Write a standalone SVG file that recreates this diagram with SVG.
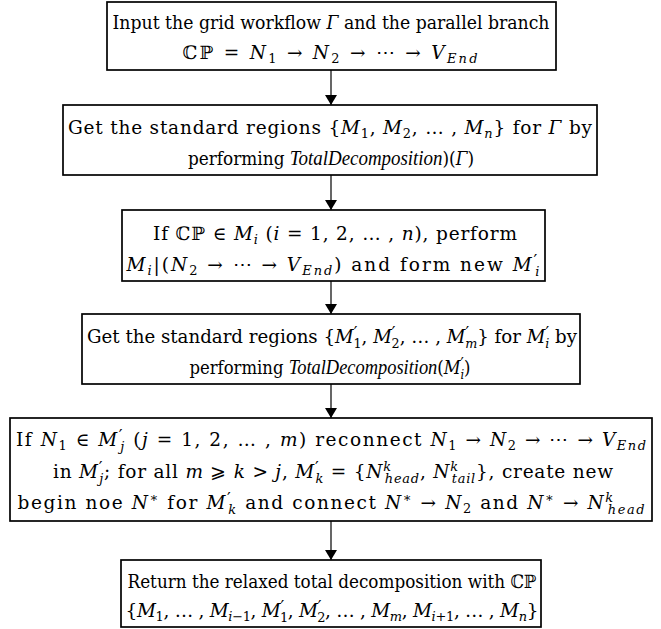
<svg xmlns="http://www.w3.org/2000/svg" width="661" height="629" viewBox="0 0 661 629">
<style>
rect.box { fill: #fff; stroke: #000; stroke-width: 1.7; }
text { font-family: "DejaVu Serif", serif; font-size: 18.5px; fill: #000; text-anchor: middle; }
.i { font-style: italic; }
.s { font-size: 70%; }
.p { font-size: 90%; }
.td { font-family: "Liberation Serif", "Times New Roman", serif; font-style: italic; font-size: 112%; }
line.c { stroke: #000; stroke-width: 1.2; }
</style>
<defs>
<marker id="ah" viewBox="0 0 10 12" refX="10" refY="6" markerWidth="10" markerHeight="12" markerUnits="userSpaceOnUse" orient="auto">
<path d="M0,0 L10,6 L0,12 z" fill="#000"/>
</marker>
</defs>
<g id="connectors">
<line class="c" x1="331" y1="70" x2="331" y2="105" marker-end="url(#ah)"/>
<line class="c" x1="331" y1="175" x2="331" y2="210" marker-end="url(#ah)"/>
<line class="c" x1="331" y1="281" x2="331" y2="314" marker-end="url(#ah)"/>
<line class="c" x1="331" y1="384" x2="331" y2="418" marker-end="url(#ah)"/>
<line class="c" x1="331" y1="521" x2="331" y2="560" marker-end="url(#ah)"/>
</g>
<g id="n1">
<rect class="box" x="107" y="2" width="449" height="68"/>
<text x="331" y="29" textLength="437" lengthAdjust="spacingAndGlyphs">Input the grid workflow <tspan class="i">Γ</tspan> and the parallel branch</text>
<text x="330" y="59" textLength="295" lengthAdjust="spacing">ℂℙ = <tspan class="i">N</tspan><tspan class="s" baseline-shift="-4">1</tspan> → <tspan class="i">N</tspan><tspan class="s" baseline-shift="-4">2</tspan> → ⋯ → <tspan class="i">V</tspan><tspan class="s i" baseline-shift="-4">End</tspan></text>
</g>
<g id="n2">
<rect class="box" x="63" y="105" width="534" height="70"/>
<text x="330" y="134" textLength="524" lengthAdjust="spacing">Get the standard regions {<tspan class="i">M</tspan><tspan class="s" baseline-shift="-4">1</tspan>, <tspan class="i">M</tspan><tspan class="s" baseline-shift="-4">2</tspan>, … , <tspan class="i">M</tspan><tspan class="s i" baseline-shift="-4">n</tspan>} for <tspan class="i">Γ</tspan> by</text>
<text x="331" y="165" textLength="286" lengthAdjust="spacingAndGlyphs">performing <tspan class="td">TotalDecomposition</tspan>)(<tspan class="i">Γ</tspan>)</text>
</g>
<g id="n3">
<rect class="box" x="122" y="210" width="423" height="71"/>
<text x="335" y="240" textLength="364" lengthAdjust="spacing">If ℂℙ ∈ <tspan class="i">M</tspan><tspan class="s i" baseline-shift="-4">i</tspan> (<tspan class="i">i</tspan> = 1, 2, … , <tspan class="i">n</tspan>), perform</text>
<text x="333" y="271" textLength="413" lengthAdjust="spacing"><tspan class="i">M</tspan><tspan class="s i" baseline-shift="-4">i</tspan>|(<tspan class="i">N</tspan><tspan class="s" baseline-shift="-4">2</tspan> → ⋯ → <tspan class="i">V</tspan><tspan class="s i" baseline-shift="-4">End</tspan>) and form new <tspan class="i">M</tspan><tspan class="p" baseline-shift="5">′</tspan><tspan class="s i" dx="-4" baseline-shift="-5">i</tspan></text>
</g>
<g id="n4">
<rect class="box" x="82" y="314" width="498" height="70"/>
<text x="332" y="343" textLength="490" lengthAdjust="spacingAndGlyphs">Get the standard regions {<tspan class="i">M</tspan><tspan class="p" baseline-shift="5">′</tspan><tspan class="s" dx="-4" baseline-shift="-5">1</tspan>, <tspan class="i">M</tspan><tspan class="p" baseline-shift="5">′</tspan><tspan class="s" dx="-4" baseline-shift="-5">2</tspan>, … , <tspan class="i">M</tspan><tspan class="p" baseline-shift="5">′</tspan><tspan class="s i" dx="-4" baseline-shift="-5">m</tspan>} for <tspan class="i">M</tspan><tspan class="p" baseline-shift="5">′</tspan><tspan class="s i" dx="-4" baseline-shift="-5">i</tspan> by</text>
<text x="330" y="374" textLength="281" lengthAdjust="spacingAndGlyphs">performing <tspan class="td">TotalDecomposition</tspan>(<tspan class="i">M</tspan><tspan class="p" baseline-shift="5">′</tspan><tspan class="s i" dx="-4" baseline-shift="-5">i</tspan>)</text>
</g>
<g id="n5">
<rect class="box" x="10" y="418" width="642" height="103"/>
<text x="331" y="446" textLength="630" lengthAdjust="spacing">If <tspan class="i">N</tspan><tspan class="s" baseline-shift="-4">1</tspan> ∈ <tspan class="i">M</tspan><tspan class="p" baseline-shift="5">′</tspan><tspan class="s i" dx="-4" baseline-shift="-5">j</tspan> (<tspan class="i">j</tspan> = 1, 2, … , <tspan class="i">m</tspan>) reconnect <tspan class="i">N</tspan><tspan class="s" baseline-shift="-4">1</tspan> → <tspan class="i">N</tspan><tspan class="s" baseline-shift="-4">2</tspan> → ⋯ → <tspan class="i">V</tspan><tspan class="s i" baseline-shift="-4">End</tspan></text>
<text x="333" y="478" textLength="560" lengthAdjust="spacing">in <tspan class="i">M</tspan><tspan class="p" baseline-shift="5">′</tspan><tspan class="s i" dx="-4" baseline-shift="-5">j</tspan>; for all <tspan class="i">m</tspan> ⩾ <tspan class="i">k</tspan> &gt; <tspan class="i">j</tspan>, <tspan class="i">M</tspan><tspan class="p" baseline-shift="5">′</tspan><tspan class="s i" dx="-4" baseline-shift="-5">k</tspan> = {<tspan class="i">N</tspan><tspan class="s i" baseline-shift="7">k</tspan><tspan class="s i" dx="-7" baseline-shift="-5">head</tspan>, <tspan class="i">N</tspan><tspan class="s i" baseline-shift="7">k</tspan><tspan class="s i" dx="-7" baseline-shift="-5">tail</tspan>}, create new</text>
<text x="331" y="509" textLength="627" lengthAdjust="spacing">begin noe <tspan class="i">N</tspan><tspan class="s" baseline-shift="7">∗</tspan> for <tspan class="i">M</tspan><tspan class="p" baseline-shift="5">′</tspan><tspan class="s i" dx="-4" baseline-shift="-5">k</tspan> and connect <tspan class="i">N</tspan><tspan class="s" baseline-shift="7">∗</tspan> → <tspan class="i">N</tspan><tspan class="s" baseline-shift="-4">2</tspan> and <tspan class="i">N</tspan><tspan class="s" baseline-shift="7">∗</tspan> → <tspan class="i">N</tspan><tspan class="s i" baseline-shift="7">k</tspan><tspan class="s i" dx="-7" baseline-shift="-5">head</tspan></text>
</g>
<g id="n6">
<rect class="box" x="121" y="560" width="420" height="67"/>
<text x="332" y="588" textLength="409" lengthAdjust="spacingAndGlyphs">Return the relaxed total decomposition with ℂℙ</text>
<text x="332" y="617" textLength="413" lengthAdjust="spacing">{<tspan class="i">M</tspan><tspan class="s" baseline-shift="-4">1</tspan>, … , <tspan class="i">M</tspan><tspan class="s" baseline-shift="-4"><tspan class="i">i</tspan>−1</tspan>, <tspan class="i">M</tspan><tspan class="p" baseline-shift="5">′</tspan><tspan class="s" dx="-4" baseline-shift="-5">1</tspan>, <tspan class="i">M</tspan><tspan class="p" baseline-shift="5">′</tspan><tspan class="s" dx="-4" baseline-shift="-5">2</tspan>, … , <tspan class="i">M</tspan><tspan class="s i" baseline-shift="-4">m</tspan>, <tspan class="i">M</tspan><tspan class="s" baseline-shift="-4"><tspan class="i">i</tspan>+1</tspan>, … , <tspan class="i">M</tspan><tspan class="s i" baseline-shift="-4">n</tspan>}</text>
</g>
</svg>
